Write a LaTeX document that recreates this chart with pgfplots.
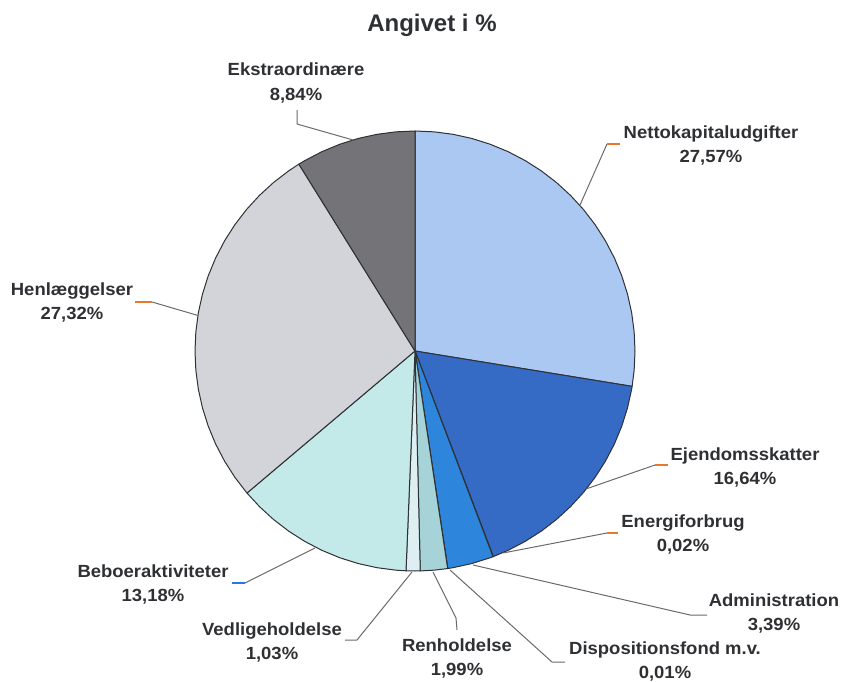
\documentclass[border=0pt]{standalone}
\usepackage{fontspec}
\setmainfont{Liberation Sans}
\newfontfamily\lblfont[FakeStretch=1.05]{Liberation Sans}
\usepackage{pgfplots}
\pgfplotsset{compat=1.18}
\definecolor{cNetto}{HTML}{ABC8F2}
\definecolor{cEjend}{HTML}{356BC4}
\definecolor{cEnergi}{HTML}{1F4E9A}
\definecolor{cAdmin}{HTML}{2E86DC}
\definecolor{cDispo}{HTML}{6FB0E8}
\definecolor{cRenh}{HTML}{A6D3D7}
\definecolor{cVedl}{HTML}{DDEFF2}
\definecolor{cBebo}{HTML}{C3E9E9}
\definecolor{cHenl}{HTML}{D3D3DA}
\definecolor{cEkst}{HTML}{737378}
\definecolor{cEdge}{HTML}{2E3135}
\definecolor{cLead}{HTML}{6A6A6A}
\definecolor{cOrange}{HTML}{E8782E}
\definecolor{cBlueTick}{HTML}{2F74E0}
\definecolor{cText}{HTML}{2F3033}
\tikzset{lbl/.style={font=\lblfont\fontsize{8.8}{12.3}\selectfont\bfseries, text=cText, align=center, inner sep=0pt}}
\begin{document}
\begin{tikzpicture}
\begin{axis}[
  x=0.5pt, y=0.5pt,
  xmin=-415, xmax=427, ymin=-329, ymax=351,
  hide axis, clip=false,
  slice/.style={draw=cEdge, line width=0.5pt, data cs=polar, line join=round},
  lead/.style={draw=cLead, line width=0.5pt, no markers},
]
% pie slices: (angle in degrees, radius)
\addplot[slice, fill=cNetto] coordinates {(0,0) (90,220) (85,220) (80,220) (75,220) (70,220) (65,220) (60,220) (55,220) (50,220) (45,220) (40,220) (35,220) (30,220) (25,220) (20,220) (15,220) (10,220) (5,220) (0,220) (-5,220) (-9.252,220)} -- cycle;
\addplot[slice, fill=cEjend] coordinates {(0,0) (-9.252,220) (-10,220) (-15,220) (-20,220) (-25,220) (-30,220) (-35,220) (-40,220) (-45,220) (-50,220) (-55,220) (-60,220) (-65,220) (-69.156,220)} -- cycle;
\addplot[slice, fill=cEnergi] coordinates {(0,0) (-69.156,220) (-69.228,220)} -- cycle;
\addplot[slice, fill=cAdmin] coordinates {(0,0) (-69.228,220) (-70,220) (-75,220) (-80,220) (-81.432,220)} -- cycle;
\addplot[slice, fill=cDispo] coordinates {(0,0) (-81.432,220) (-81.468,220)} -- cycle;
\addplot[slice, fill=cRenh] coordinates {(0,0) (-81.468,220) (-85,220) (-88.632,220)} -- cycle;
\addplot[slice, fill=cVedl] coordinates {(0,0) (-88.632,220) (-90,220) (-92.34,220)} -- cycle;
\addplot[slice, fill=cBebo] coordinates {(0,0) (-92.34,220) (-95,220) (-100,220) (-105,220) (-110,220) (-115,220) (-120,220) (-125,220) (-130,220) (-135,220) (-139.788,220)} -- cycle;
\addplot[slice, fill=cHenl] coordinates {(0,0) (-139.788,220) (-140,220) (-145,220) (-150,220) (-155,220) (-160,220) (-165,220) (-170,220) (-175,220) (-180,220) (-185,220) (-190,220) (-195,220) (-200,220) (-205,220) (-210,220) (-215,220) (-220,220) (-225,220) (-230,220) (-235,220) (-238.14,220)} -- cycle;
\addplot[slice, fill=cEkst] coordinates {(0,0) (-238.14,220) (-240,220) (-245,220) (-250,220) (-255,220) (-260,220) (-265,220) (-270,220)} -- cycle;

% leader lines
\addplot[lead] coordinates {(-118,241) (-118,227) (-62,211)};
\addplot[lead] coordinates {(192,207) (165,146)};
\addplot[draw=cOrange, line width=0.6pt] coordinates {(192,207) (205,207)};
\addplot[lead] coordinates {(-263,49) (-217,35.5)};
\addplot[draw=cOrange, line width=0.6pt] coordinates {(-280,49) (-263,49)};
\addplot[lead] coordinates {(240,-114) (171.5,-137.8)};
\addplot[draw=cOrange, line width=0.6pt] coordinates {(240,-114) (253,-114)};
\addplot[lead] coordinates {(192,-182) (88,-202)};
\addplot[draw=cOrange, line width=0.6pt] coordinates {(192,-182) (203,-182)};
\addplot[lead] coordinates {(292,-264) (275,-264) (58,-214)};
\addplot[lead] coordinates {(150,-311) (137,-311) (35,-219)};
\addplot[lead] coordinates {(42,-279) (41,-267) (18,-221)};
\addplot[lead] coordinates {(-70,-289) (-58,-289) (-3,-221)};
\addplot[lead] coordinates {(-170,-232) (-100,-197)};
\addplot[draw=cBlueTick, line width=0.6pt] coordinates {(-183,-232) (-170,-232)};

% labels
\node[lbl, font=\fontsize{12}{14}\selectfont\bfseries] at (axis cs:17,326) {Angivet i \%};
\node[lbl] at (axis cs:-119,268) {Ekstraordinære\\8,84\%};
\node[lbl] at (axis cs:296,205.5) {Nettokapitaludgifter\\27,57\%};
\node[lbl] at (axis cs:-343,48.5) {Henlæggelser\\27,32\%};
\node[lbl] at (axis cs:330,-116.5) {Ejendomsskatter\\16,64\%};
\node[lbl] at (axis cs:268,-183.5) {Energiforbrug\\0,02\%};
\node[lbl] at (axis cs:359,-262.5) {Administration\\3,39\%};
\node[lbl] at (axis cs:250,-310.5) {Dispositionsfond m.v.\\0,01\%};
\node[lbl] at (axis cs:42,-307.5) {Renholdelse\\1,99\%};
\node[lbl] at (axis cs:-143,-291.5) {Vedligeholdelse\\1,03\%};
\node[lbl] at (axis cs:-262,-233.5) {Beboeraktiviteter\\13,18\%};
\path (axis cs:-415,-329) rectangle (axis cs:427,351);
\end{axis}
\end{tikzpicture}
\end{document}
